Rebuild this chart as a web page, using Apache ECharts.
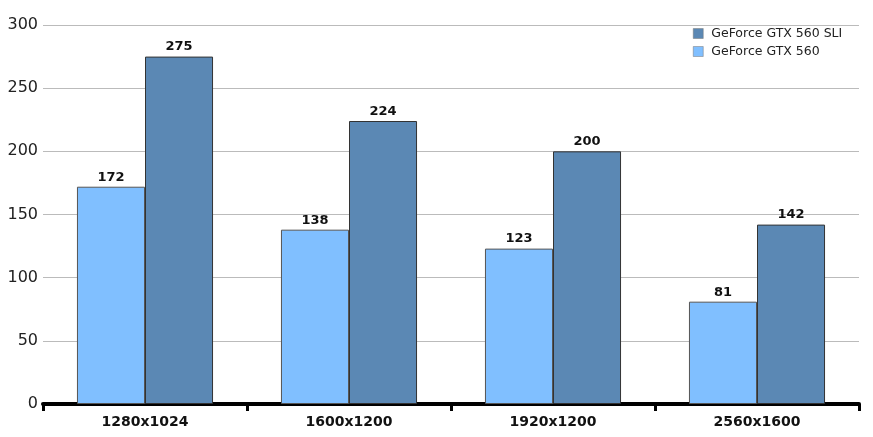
<!DOCTYPE html>
<html><head><meta charset="utf-8">
<script src="https://cdn.jsdelivr.net/npm/echarts@6/dist/echarts.min.js"></script>
<style>html,body{margin:0;padding:0;background:#fff}#c{width:873px;height:437px}</style>
</head><body><div id="c"></div>
<script>
const categories = ['1280x1024','1600x1200','1920x1200','2560x1600'];
const gtx560 = [172,138,123,81];
const gtx560sli = [275,224,200,142];
const yTicks = [0,50,100,150,200,250,300];

const chart = echarts.init(document.getElementById('c'), null, {renderer:'canvas'});
const font = 'DejaVu Sans, Verdana, sans-serif';
chart.setOption({
  animation:false,
  grid:{left:43,right:14,top:25,bottom:33,containLabel:false},
  legend:{
    orient:'vertical', left:688, top:22, padding:5, itemWidth:10, itemHeight:10, itemGap:5,
    data:['GeForce GTX 560 SLI','GeForce GTX 560'],
    textStyle:{fontFamily:font,fontSize:12.5,color:'#222',padding:[0,0,0,3]},
    itemStyle:{borderColor:'#777',borderWidth:0.5},
    icon:'rect'
  },
  xAxis:{
    type:'category', data:categories,
    axisLine:{lineStyle:{color:'#000',width:4}},
    axisTick:{show:true,length:7,lineStyle:{color:'#000',width:3}},
    axisLabel:{fontFamily:font,fontSize:14,fontWeight:'bold',color:'#111',margin:11}
  },
  yAxis:{
    type:'value', min:yTicks[0], max:yTicks[yTicks.length-1], interval:50,
    axisLine:{show:false}, axisTick:{show:false},
    axisLabel:{fontFamily:font,fontSize:16,color:'#222',margin:5},
    splitLine:{lineStyle:{color:'#bbb',width:1}}
  },
  series:[
    {name:'GeForce GTX 560', type:'bar', data:gtx560, barGap:'0%', barCategoryGap:'33.3%',
     itemStyle:{color:'#80bfff',borderColor:'#555',borderWidth:1},
     label:{show:true,position:'top',fontFamily:font,fontSize:13,fontWeight:'bold',color:'#111',distance:3}},
    {name:'GeForce GTX 560 SLI', type:'bar', data:gtx560sli, barGap:'0%', barCategoryGap:'33.3%',
     itemStyle:{color:'#5b88b4',borderColor:'#333',borderWidth:1},
     label:{show:true,position:'top',fontFamily:font,fontSize:13,fontWeight:'bold',color:'#111',distance:3}}
  ]
});
</script></body></html>
